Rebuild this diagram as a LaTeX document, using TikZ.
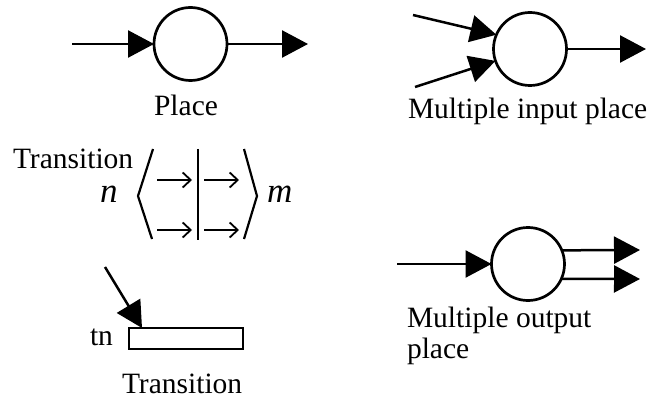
\documentclass[tikz,border=0pt]{standalone}
\usepackage{fontspec}
\setmainfont{Liberation Serif}
\usetikzlibrary{arrows.meta,calc}
\begin{document}
\begin{tikzpicture}[x=1pt,y=-1pt,
  place/.style={circle,draw,line width=2.7pt,minimum size=73pt,inner sep=0pt,outer sep=0pt},
  arc/.style={line width=2.5pt,-{Triangle[length=26pt,width=27pt]}},
  thinarc/.style={line width=1.8pt,-{Straight Barb[length=8pt,width=15pt,line width=1.8pt]}},
  brk/.style={line width=2.2pt},
  lbl/.style={inner sep=0pt,outer sep=0pt,font=\fontsize{29.5}{31}\selectfont},
  ilbl/.style={lbl,font=\fontsize{35}{37}\selectfont\itshape}]
\useasboundingbox (0,0) rectangle (647,398);
% Place
\node[place] (p) at (190.5,44) {};
\coordinate (pin) at (72,44);
\coordinate (pout) at (308,44);
\draw[arc] (pin) -- (p.west);
\draw[arc] (p.east) -- (pout);
\node[lbl,anchor=base] (plbl) at (186,116) {Place};
% Multiple input place
\node[place] (mi) at (530,49) {};
\coordinate (mia) at (413,15);
\coordinate (mib) at (415,87);
\coordinate (miout) at (646,49);
\draw[arc] (mia) -- (mi.157);
\draw[arc] (mib) -- (mi.199);
\draw[arc] (mi.east) -- (miout);
\node[lbl,anchor=base west] (milbl) at (408,119) {Multiple input place};
% Transition (bracket form)
\node[lbl,anchor=base west] (tlbl) at (13,168) {Transition};
\node[ilbl,anchor=base west] (n) at (100,202) {n};
\node[ilbl,anchor=base west] (m) at (267,202) {m};
\draw[brk] (153,149) -- (138,196) -- (152,239);
\draw[brk] (244,149) -- (257,196) -- (244,239);
\draw[line width=2.7pt] (198,149) -- (198,240);
\draw[thinarc] (157,180) -- (192,180);
\draw[thinarc] (204,180) -- (239,180);
\draw[thinarc] (157,230) -- (192,230);
\draw[thinarc] (204,230) -- (239,230);
% Transition (bar form)
\node[draw,line width=2.3pt,minimum width=114pt,minimum height=21pt,inner sep=0pt,outer sep=0pt] (tr) at (186,338.5) {};
\coordinate (tin) at (105,267);
\draw[arc] (tin) -- ($(tr.north west)+(13,0)$);
\node[lbl,anchor=base west] (tn) at (90,345) {tn};
\node[lbl,anchor=base west] (trlbl) at (122,393) {Transition};
% Multiple output place
\node[place] (mo) at (528,264) {};
\coordinate (moin) at (397,264);
\coordinate (moa) at (640,250);
\coordinate (mob) at (640,279);
\draw[arc] (moin) -- (mo.west);
\draw[arc] (mo.22) -- (moa);
\draw[arc] (mo.-24) -- (mob);
\node[lbl,anchor=north west,align=left] (molbl) at (407,307) {Multiple output\\[0pt]place};
\end{tikzpicture}
\end{document}
